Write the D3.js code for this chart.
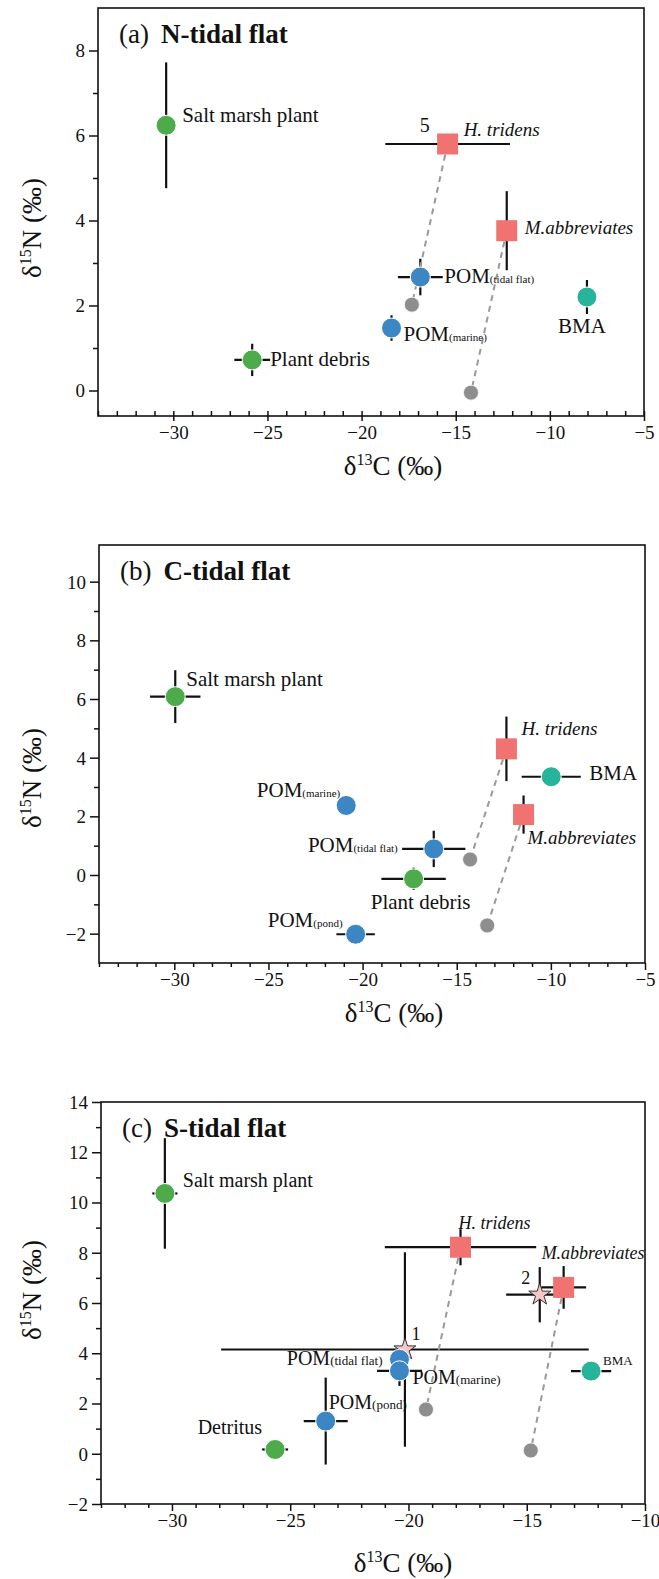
<!DOCTYPE html>
<html><head><meta charset="utf-8">
<script src="https://cdn.jsdelivr.net/npm/d3@7"></script>
<style>
body{margin:0;background:#fff;}
svg{display:block;}
text{font-family:"Liberation Serif","Times New Roman",serif;fill:#111;}
</style>
</head><body>
<svg id="chart" width="659" height="1579"></svg>
<script>
// ---------------- DATA ----------------
const panelLetters = ["(a)", "(b)", "(c)"];
const panelTitles = ["N-tidal flat", "C-tidal flat", "S-tidal flat"];
const xDomains = [[-34, -5], [-34, -5], [-33, -10]];
const yDomains = [[-0.6, 9], [-3, 11.25], [-2, 14]];
const xTickValues = [[-30, -25, -20, -15, -10, -5], [-30, -25, -20, -15, -10, -5], [-30, -25, -20, -15, -10]];
const yTickValues = [[0, 2, 4, 6, 8], [-2, 0, 2, 4, 6, 8, 10], [-2, 0, 2, 4, 6, 8, 10, 12, 14]];
const yMinorValues = [[1, 3, 5, 7], [-1, 1, 3, 5, 7, 9], [-1, 1, 3, 5, 7, 9, 11, 13]];

// label, group, d13C (x), d15N (y), SD x, SD y
const pointsA = [
  {label: "Salt marsh plant", group: "plant", x: -30.38, y: 6.24, ex: 0, ey: 1.48},
  {label: "Plant debris", group: "plant", x: -25.81, y: 0.72, ex: 0.95, ey: 0.38},
  {label: "POM(marine)", group: "pom", x: -18.41, y: 1.47, ex: 0, ey: 0.3},
  {label: "POM(tidal flat)", group: "pom", x: -16.88, y: 2.67, ex: 1.19, ey: 0.43},
  {label: "BMA", group: "bma", x: -8.03, y: 2.2, ex: 0, ey: 0.4},
  {label: "H. tridens", group: "consumer", x: -15.43, y: 5.80, ex: 3.31, ey: 0},
  {label: "M.abbreviates", group: "consumer", x: -12.29, y: 3.76, ex: 0, ey: 0.93}
];
const basesA = [
  {of: "H. tridens", x: -17.33, y: 2.02},
  {of: "M.abbreviates", x: -14.19, y: -0.05}
];
const mixA = [{label: "5", x: -15.43, y: 5.80, ex: 0, ey: 0, hidden: true}];

const pointsB = [
  {label: "Salt marsh plant", group: "plant", x: -29.95, y: 6.08, ex: 1.34, ey: 0.9},
  {label: "POM(marine)", group: "pom", x: -20.87, y: 2.37, ex: 0, ey: 0},
  {label: "POM(tidal flat)", group: "pom", x: -16.22, y: 0.89, ex: 1.68, ey: 0.62},
  {label: "Plant debris", group: "plant", x: -17.29, y: -0.13, ex: 1.71, ey: 0.38},
  {label: "POM(pond)", group: "pom", x: -20.37, y: -2.02, ex: 1.02, ey: 0},
  {label: "BMA", group: "bma", x: -9.98, y: 3.35, ex: 1.57, ey: 0.3},
  {label: "H. tridens", group: "consumer", x: -12.36, y: 4.3, ex: 0, ey: 1.1},
  {label: "M.abbreviates", group: "consumer", x: -11.45, y: 2.06, ex: 0, ey: 0.65}
];
const basesB = [
  {of: "H. tridens", x: -14.29, y: 0.53},
  {of: "M.abbreviates", x: -13.38, y: -1.72}
];
const mixB = [];

const pointsC = [
  {label: "Salt marsh plant", group: "plant", x: -30.3, y: 10.36, ex: 0.53, ey: 2.2},
  {label: "Detritus", group: "plant", x: -25.64, y: 0.17, ex: 0.55, ey: 0},
  {label: "POM(pond)", group: "pom", x: -23.5, y: 1.3, ex: 0.93, ey: 1.73},
  {label: "POM(tidal flat)", group: "pom", x: -20.38, y: 3.76, ex: 0, ey: 0},
  {label: "POM(marine)", group: "pom", x: -20.38, y: 3.3, ex: 0.95, ey: 0.6},
  {label: "BMA", group: "bma", x: -12.28, y: 3.29, ex: 0.85, ey: 0},
  {label: "H. tridens", group: "consumer", x: -17.8, y: 8.22, ex: 3.2, ey: 0.72},
  {label: "M.abbreviates", group: "consumer", x: -13.44, y: 6.62, ex: 0.95, ey: 0.85}
];
const basesC = [
  {of: "H. tridens", x: -19.26, y: 1.76},
  {of: "M.abbreviates", x: -14.83, y: 0.13}
];
const mixC = [
  {label: "1", x: -20.15, y: 4.15, ex: 7.77, ey: 3.87},
  {label: "2", x: -14.45, y: 6.33, ex: 1.42, ey: 1.1}
];

// ---------------- LAYOUT / STYLE ----------------
const colors = {plant: "#4dab4b", pom: "#3b86c3", bma: "#28b49a", consumer: "#f07371", base: "#8e8e8e", mix: "#f7c6c6"};
const frames = [
  {left: 98, right: 644, top: 8, bottom: 416, xMinorLen: -5, xMajorOut: 5, xMajorIn: 5, xTitleDy: 59, xTitleDx: 22, yTitleY: 228, subSize: 11},
  {left: 99, right: 645, top: 545, bottom: 963, xMinorLen: 4, xMajorOut: 7, xMajorIn: 0, xTitleDy: 59, xTitleDx: 22, yTitleY: 778, subSize: 11},
  {left: 101, right: 645, top: 1102, bottom: 1504, xMinorLen: 4, xMajorOut: 7, xMajorIn: 0, xTitleDy: 68, xTitleDx: 30, yTitleY: 1290, subSize: 13}
];
// label offsets in px relative to marker: [dx, dy, anchor, fontSize?]
const labelLayouts = [
  {"Salt marsh plant": [16, -3, "start"], "H. tridens": [16, -8, "start"], "M.abbreviates": [18, 3, "start"],
   "POM(tidal flat)": [24, 6, "start"], "POM(marine)": [12, 13, "start"], "Plant debris": [18, 6, "start"],
   "BMA": [-5, 36, "middle"], "5": [-23, -12, "middle", 20]},
  {"Salt marsh plant": [11, -11, "start"], "H. tridens": [15, -14, "start"], "BMA": [38, 3, "start"],
   "POM(marine)": [-6, -8, "end"], "M.abbreviates": [4, 29, "start"], "POM(tidal flat)": [-36, 3, "end"],
   "Plant debris": [7, 30, "middle"], "POM(pond)": [-13, -7, "end"]},
  {"Salt marsh plant": [18, -6, "start", 20], "H. tridens": [-2, -18, "start", 18], "M.abbreviates": [-22, -28, "start", 18],
   "POM(tidal flat)": [-17, 6, "end", 20], "POM(marine)": [13, 13, "start", 20], "POM(pond)": [3, -12, "start", 20],
   "Detritus": [-13, -15, "end", 20], "BMA": [12, -6, "start", 13], "1": [11, -9, "middle", 18], "2": [-14, -11, "middle", 18]}
];
const italicLabels = ["H. tridens", "M.abbreviates"];

const allPoints = [pointsA, pointsB, pointsC];
const allBases = [basesA, basesB, basesC];
const allMix = [mixA, mixB, mixC];

const svg = d3.select("#chart");
const LABEL_SIZE = 21, ITALIC_SIZE = 19, TICK_SIZE = 19, TITLE_SIZE = 27, AXIS_TITLE = 27;

function styleAxis(sel) {
  sel.select(".domain").remove();
  sel.selectAll(".tick line").attr("stroke", "#111").attr("stroke-width", 1.5);
  sel.selectAll("text").attr("font-family", '"Liberation Serif","Times New Roman",serif')
    .attr("font-size", TICK_SIZE).attr("fill", "#111");
}

function addLabel(g, txt, px, py, lay, subSize) {
  const [dx, dy, anchor, fs] = lay;
  const italic = italicLabels.includes(txt);
  const t = g.append("text").attr("x", px + dx).attr("y", py + dy)
    .attr("text-anchor", anchor).attr("font-size", fs || (italic ? ITALIC_SIZE : LABEL_SIZE));
  if (italic) t.attr("font-style", "italic");
  const m = txt.match(/^(POM)(\(.*\))$/);
  if (m) {
    t.append("tspan").text(m[1]);
    t.append("tspan").attr("font-size", subSize).text(m[2]);
  } else t.text(txt);
}

for (let i = 0; i < 3; i++) {
  const f = frames[i];
  const g = svg.append("g");
  const x = d3.scaleLinear().domain(xDomains[i]).range([f.left, f.right]);
  const y = d3.scaleLinear().domain(yDomains[i]).range([f.bottom, f.top]);

  // x minor ticks
  const xMinor = d3.range(Math.ceil(xDomains[i][0]), xDomains[i][1] + 0.001, 1).filter(v => v % 5 !== 0);
  g.append("g").attr("transform", `translate(0,${f.bottom})`)
    .call(d3.axisBottom(x).tickValues(xMinor).tickSize(f.xMinorLen).tickFormat(""))
    .call(styleAxis);
  if (f.xMajorIn > 0) {
    g.append("g").attr("transform", `translate(0,${f.bottom})`)
      .call(d3.axisBottom(x).tickValues(xTickValues[i]).tickSize(-f.xMajorIn).tickFormat(""))
      .call(styleAxis);
  }
  const gx = g.append("g").attr("transform", `translate(0,${f.bottom})`)
    .call(d3.axisBottom(x).tickValues(xTickValues[i]).tickSize(f.xMajorOut).tickFormat(d3.format("d")))
    .call(styleAxis);
  gx.selectAll("text").attr("y", 10).attr("dy", "0.71em");

  // y ticks
  g.append("g").attr("transform", `translate(${f.left},0)`)
    .call(d3.axisLeft(y).tickValues(yMinorValues[i]).tickSize(5).tickFormat(""))
    .call(styleAxis);
  const gy = g.append("g").attr("transform", `translate(${f.left},0)`)
    .call(d3.axisLeft(y).tickValues(yTickValues[i]).tickSize(9).tickFormat(d3.format("d")))
    .call(styleAxis);
  gy.selectAll("text").attr("x", -13).attr("dy", "0.34em");

  // frame
  g.append("rect").attr("x", f.left).attr("y", f.top).attr("width", f.right - f.left)
    .attr("height", f.bottom - f.top).attr("fill", "none").attr("stroke", "#111").attr("stroke-width", 1.6);

  const pts = allPoints[i], bases = allBases[i], mix = allMix[i].filter(d => !d.hidden);

  // error bars
  const eb = g.append("g").attr("stroke", "#111").attr("stroke-width", 2.2);
  [...pts, ...mix].forEach(d => {
    if (d.ex > 0) eb.append("line").attr("x1", x(d.x - d.ex)).attr("x2", x(d.x + d.ex)).attr("y1", y(d.y)).attr("y2", y(d.y));
    if (d.ey > 0) eb.append("line").attr("x1", x(d.x)).attr("x2", x(d.x)).attr("y1", y(d.y - d.ey)).attr("y2", y(d.y + d.ey));
  });

  // dashed links consumer -> baseline
  bases.forEach(b => {
    const c = pts.find(p => p.label === b.of);
    g.append("line").attr("x1", x(c.x)).attr("y1", y(c.y)).attr("x2", x(b.x)).attr("y2", y(b.y))
      .attr("stroke", "#999").attr("stroke-width", 2).attr("stroke-dasharray", "6,5");
  });
  // baseline dots
  g.selectAll(".base").data(bases).join("circle").attr("cx", d => x(d.x)).attr("cy", d => y(d.y))
    .attr("r", 7.5).attr("fill", colors.base).attr("stroke", "#fff").attr("stroke-width", 0.8);

  // mixing points (stars)
  g.selectAll(".mix").data(mix).join("path")
    .attr("transform", d => `translate(${x(d.x)},${y(d.y)})`)
    .attr("d", d3.symbol().type(d3.symbolStar).size(150))
    .attr("fill", colors.mix).attr("stroke", "#333").attr("stroke-width", 1);

  // source circles
  g.selectAll(".src").data(pts.filter(d => d.group !== "consumer")).join("circle")
    .attr("cx", d => x(d.x)).attr("cy", d => y(d.y)).attr("r", 10)
    .attr("fill", d => colors[d.group]).attr("stroke", "#fff").attr("stroke-width", 1);
  // consumer squares
  g.selectAll(".con").data(pts.filter(d => d.group === "consumer")).join("rect")
    .attr("x", d => x(d.x) - 10.5).attr("y", d => y(d.y) - 10.5).attr("width", 21).attr("height", 21)
    .attr("fill", colors.consumer);

  // labels
  const lay = labelLayouts[i];
  pts.forEach(d => { if (lay[d.label]) addLabel(g, d.label, x(d.x), y(d.y), lay[d.label], f.subSize); });
  allMix[i].forEach(d => { if (lay[d.label]) addLabel(g, d.label, x(d.x), y(d.y), lay[d.label], f.subSize); });

  // panel title
  const tt = g.append("text").attr("x", f.left + 21).attr("y", f.top + 35).attr("font-size", TITLE_SIZE);
  tt.append("tspan").text(panelLetters[i]);
  tt.append("tspan").attr("dx", 12).attr("font-weight", "bold").text(panelTitles[i]);

  // axis titles
  const xt = g.append("text").attr("x", (f.left + f.right) / 2 + f.xTitleDx).attr("y", f.bottom + f.xTitleDy)
    .attr("text-anchor", "middle").attr("font-size", AXIS_TITLE);
  xt.append("tspan").text("δ");
  xt.append("tspan").attr("font-size", 16).attr("dy", -10).text("13");
  xt.append("tspan").attr("dy", 10).text("C (‰)");

  const yt = g.append("text").attr("transform", `translate(41,${f.yTitleY}) rotate(-90)`)
    .attr("text-anchor", "middle").attr("font-size", AXIS_TITLE);
  yt.append("tspan").text("δ");
  yt.append("tspan").attr("font-size", 16).attr("dy", -10).text("15");
  yt.append("tspan").attr("dy", 10).text("N (‰)");
}
</script>
</body></html>
